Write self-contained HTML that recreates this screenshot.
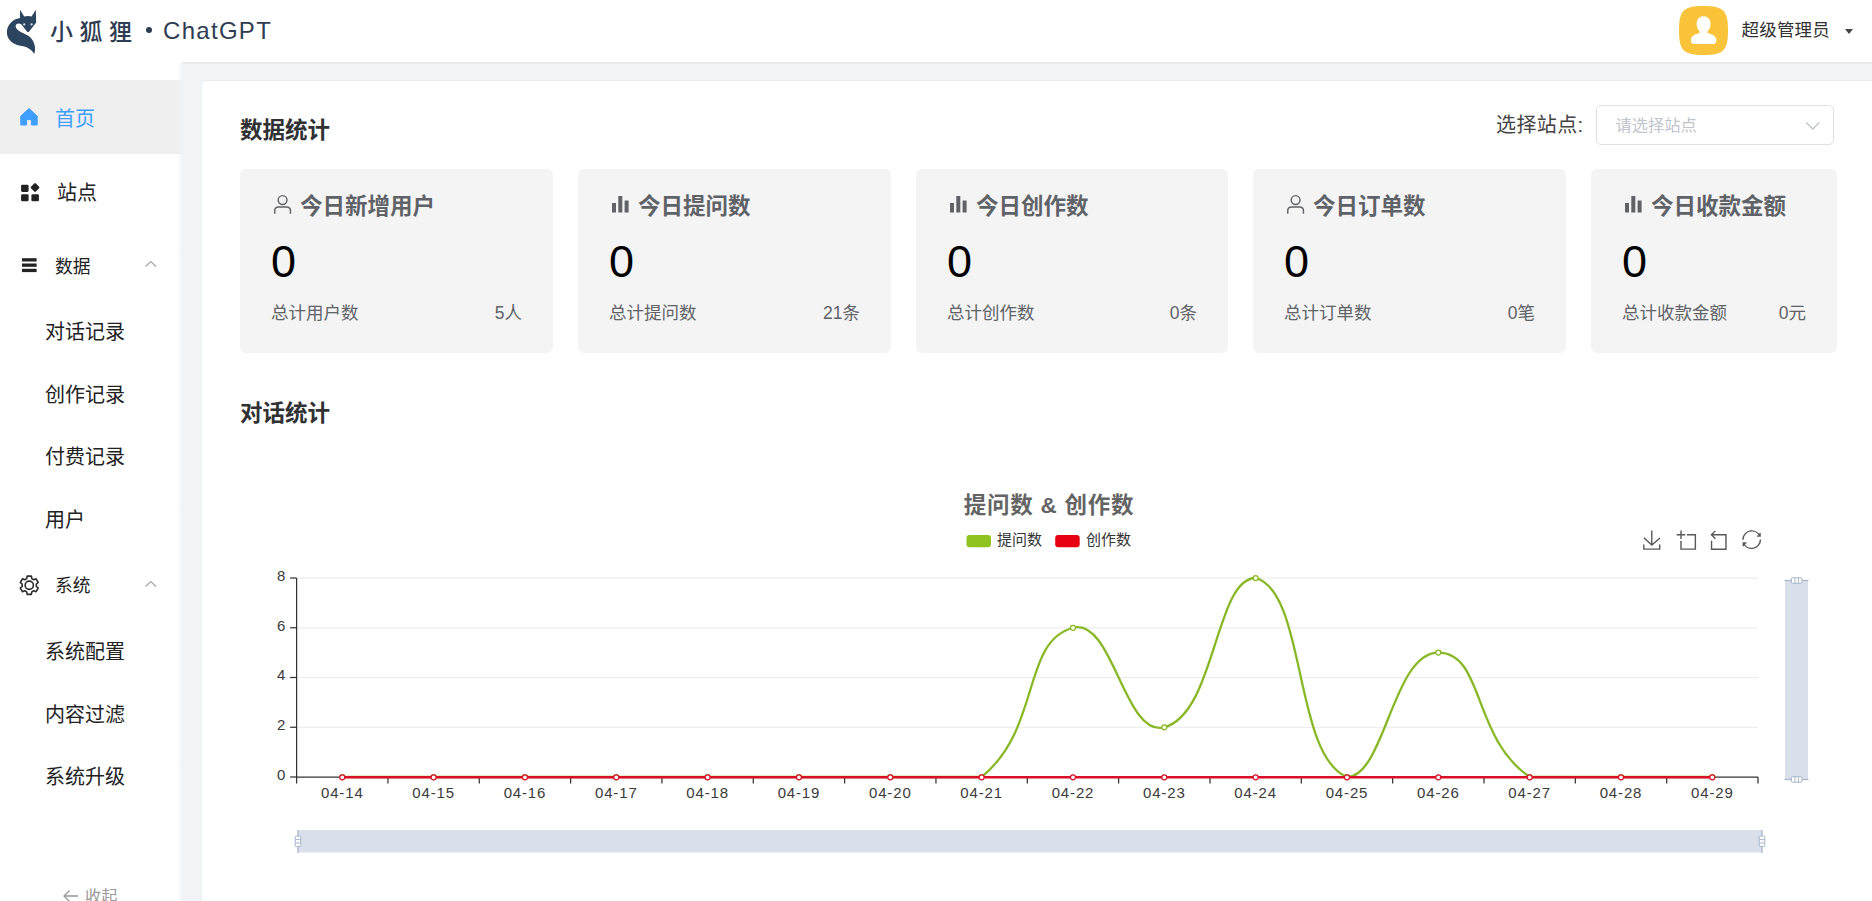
<!DOCTYPE html>
<html lang="zh-CN">
<head>
<meta charset="utf-8">
<title>小狐狸 ChatGPT</title>
<style>
*{box-sizing:border-box;margin:0;padding:0}
html,body{width:1872px;height:901px;overflow:hidden;background:#f0f4f7;font-family:"Liberation Sans","Noto Sans CJK SC",sans-serif;color:#303133}
.abs{position:absolute}
#header{position:absolute;left:0;top:0;width:1872px;height:62px;background:#fff;z-index:3}
#header:after{content:"";position:absolute;left:183px;right:0;top:62px;height:1.6px;background:#e9e9e9}
#sidebar{position:absolute;left:0;top:62px;width:183px;height:839px;background:#fff;z-index:2}
#sidebar:after{content:"";position:absolute;right:0;top:0;width:7px;height:100%;background:linear-gradient(to right,rgba(240,244,247,0),rgba(240,244,247,1))}
#panel{position:absolute;left:202px;top:81px;width:1690px;height:840px;background:#fff;border-radius:4px 0 0 0;box-shadow:0 -1px 1px rgba(0,0,0,.04);z-index:1}
.logo-cn{position:absolute;left:50px;top:16px;font-size:23px;line-height:32px;letter-spacing:6.5px;color:#2f3d52;white-space:nowrap;font-weight:500}
.logo-en{position:absolute;left:163px;top:15px;font-size:24px;line-height:32px;letter-spacing:1.3px;color:#2f3d52;white-space:nowrap}
.logo-dot{position:absolute;left:145.5px;top:26.5px;width:6px;height:6px;border-radius:50%;background:#2f3d52}
.avatar{position:absolute;left:1679.4px;top:5.5px;width:49px;height:49px;}
.uname{position:absolute;left:1741.5px;top:17px;letter-spacing:.2px;font-size:17.5px;line-height:26px;color:#333;white-space:nowrap}
.caret{position:absolute;left:1844.8px;top:29px;width:0;height:0;border-left:4px solid transparent;border-right:4px solid transparent;border-top:5px solid #444}
.mi{position:absolute;left:0;width:183px;white-space:nowrap;font-size:20px;color:#222}
.mi .t{position:absolute;top:0;line-height:30px}
.active{background:#efefef}
.h2{position:absolute;font-size:22.5px;font-weight:700;color:#303133;line-height:32px;white-space:nowrap}
.card{position:absolute;top:169px;height:184px;background:#f4f4f5;border-radius:6px}
.card .ct{position:absolute;left:60px;top:21.7px;font-size:22.5px;line-height:32px;font-weight:700;color:#5f6266;white-space:nowrap}
.card .num{position:absolute;left:31px;top:66px;font-size:45px;line-height:54px;color:#000}
.card .l{position:absolute;left:31px;top:131px;font-size:17.5px;line-height:26px;color:#606266;white-space:nowrap}
.card .r{position:absolute;right:31px;top:131px;font-size:17.5px;line-height:26px;color:#606266;white-space:nowrap}
.card svg{position:absolute;left:32.8px;top:25.3px}
.sel-label{position:absolute;left:1496px;top:110px;font-size:20px;letter-spacing:.4px;line-height:30px;color:#444;white-space:nowrap}
.sel{position:absolute;left:1596px;top:105px;width:238px;height:40px;border:1.25px solid #dfe1e6;border-radius:5px;background:#fff}
.sel span{position:absolute;left:18.5px;top:6.5px;font-size:16.25px;line-height:24px;color:#c0c4cc;white-space:nowrap}
.chart{position:absolute;left:240px;top:461px}
.chart text{font-family:"Liberation Sans","Noto Sans CJK SC",sans-serif}
.ax{font-size:15px;fill:#3a3a3a;letter-spacing:.85px}
.ttl{font-size:22.5px;font-weight:700;fill:#646464;letter-spacing:.75px}
.lg{font-size:15px;fill:#333}
</style>
</head>
<body>
<div id="header">
  <svg class="abs" style="left:0;top:0" width="60" height="62" viewBox="0 0 60 62">
    <path d="M20,9.8 L24.2,16.6 Q28,15.6 31.6,16.6 L35.8,9.8 L36.2,22.5 L28.8,32 L27.4,32 L21,24 C18,22.5 15.6,24 15.6,26.5 C16.5,31.5 25,33 30,37 C35,42 36.2,49 34.2,54 C32,50 28,47 22,46 C14,45 8,41 7,34 C6,26 12,19 20,18 Z" fill="#2b4560"/>
    <circle cx="24.2" cy="24.4" r="1.1" fill="#dfe6ee"/><circle cx="31.6" cy="24.4" r="1.1" fill="#dfe6ee"/>
  </svg>
  <div class="logo-cn">小狐狸</div>
  <div class="logo-dot"></div>
  <div class="logo-en">ChatGPT</div>
  <div class="avatar">
    <svg width="49" height="49" viewBox="0 0 49 49"><path d="M0,24.5 C0,4.500 4.500,0 24.500,0 S49,4.500 49,24.500 S44.500,49 24.500,49 S0,44.500 0,24.500 Z" fill="#f9c33a"/><path d="M24.600,10.200 c4.200,0 7,3.200 7,7.600 c0,3.400 -1.300,6 -3,7.600 v1.600 c4.500,1 8,2.600 8.700,6.400 c.4,2.500 -1,4.500 -3.200,4.500 h-19 c-2.200,0 -3.600,-2 -3.200,-4.500 c.7,-3.800 4.200,-5.400 8.700,-6.400 v-1.600 c-1.700,-1.600 -3,-4.200 -3,-7.600 c0,-4.400 2.800,-7.600 7,-7.600 z" fill="#fff"/></svg>
  </div>
  <div class="uname">超级管理员</div>
  <div class="caret"></div>
</div>

<div id="sidebar">
  <div class="mi active" style="top:18px;height:74px">
    <svg class="abs" style="left:19px;top:27px" width="20" height="20" viewBox="0 0 20 20"><path d="M10,1.6 L18.2,9 V18 H12.4 V12.6 H7.6 V18 H1.8 V9 Z" fill="#409eff" stroke="#409eff" stroke-width="1" stroke-linejoin="round"/></svg>
    <span class="t" style="left:55px;top:23.5px;color:#409eff">首页</span>
  </div>
  <div class="mi" style="top:92px;height:74px">
    <svg class="abs" style="left:20px;top:28px" width="21.5" height="21.5" viewBox="0 0 20 20"><rect x="1" y="2.6" width="7" height="6.6" rx="1.2" fill="#222"/><rect x="1" y="11.4" width="7" height="6.6" rx="1.2" fill="#222"/><rect x="10.6" y="11.4" width="7" height="6.6" rx="1.2" fill="#222"/><rect x="10.800" y="1.9" width="6.400" height="6.400" rx="1.1" fill="#222" transform="rotate(45 14 5.1)"/></svg>
    <span class="t" style="left:57px;top:24px">站点</span>
  </div>
  <div class="mi" style="top:166px;height:74px">
    <svg class="abs" style="left:21.500px;top:28.500px" width="16" height="16" viewBox="0 0 16 16"><rect x="0" y="1.200" width="14.600" height="3.300" fill="#222"/><rect x="0" y="6.500" width="14.600" height="3.300" fill="#222"/><rect x="0" y="11.800" width="14.600" height="3.300" fill="#222"/></svg>
    <span class="t" style="left:55px;top:24px;font-size:17.75px">数据</span>
    <svg class="abs" style="left:143.5px;top:31px" width="14" height="10" viewBox="0 0 14 10"><path d="M1.500,7.500 L6.800,2.600 L12.100,7.500" fill="none" stroke="#aaa" stroke-width="1.4"/></svg>
  </div>
  <div class="mi" style="top:255px;height:32px"><span class="t" style="left:45px">对话记录</span></div>
  <div class="mi" style="top:318px;height:32px"><span class="t" style="left:45px">创作记录</span></div>
  <div class="mi" style="top:380px;height:32px"><span class="t" style="left:45px">付费记录</span></div>
  <div class="mi" style="top:443px;height:32px"><span class="t" style="left:45px">用户</span></div>
  <div class="mi" style="top:486px;height:74px">
    <svg class="abs" style="left:17.700px;top:26.100px" width="22.500" height="22.500" viewBox="0 0 24 24"><path d="M14.72,4.90 L14.25,2.26 L9.75,2.26 L9.28,4.90 L7.22,6.09 L4.69,5.18 L2.44,9.08 L4.49,10.81 L4.49,13.19 L2.44,14.92 L4.69,18.82 L7.22,17.91 L9.28,19.10 L9.75,21.74 L14.25,21.74 L14.72,19.10 L16.78,17.91 L19.31,18.82 L21.56,14.92 L19.51,13.19 L19.51,10.81 L21.56,9.08 L19.31,5.18 L16.78,6.09 Z" fill="none" stroke="#2d2d2d" stroke-width="1.700" stroke-linejoin="round"/><circle cx="12" cy="12" r="4.400" fill="none" stroke="#2d2d2d" stroke-width="1.700"/></svg>
    <span class="t" style="left:55px;top:22.5px;font-size:17.75px">系统</span>
    <svg class="abs" style="left:143.5px;top:31px" width="14" height="10" viewBox="0 0 14 10"><path d="M1.500,7.500 L6.800,2.600 L12.100,7.500" fill="none" stroke="#aaa" stroke-width="1.4"/></svg>
  </div>
  <div class="mi" style="top:575px;height:32px"><span class="t" style="left:45px">系统配置</span></div>
  <div class="mi" style="top:638px;height:32px"><span class="t" style="left:45px">内容过滤</span></div>
  <div class="mi" style="top:700px;height:32px"><span class="t" style="left:45px">系统升级</span></div>
  <div class="mi" style="top:820px;height:30px;color:#999;font-size:16.25px">
    <svg class="abs" style="left:62px;top:7px" width="18" height="14" viewBox="0 0 18 14"><path d="M16,7 H2 M7.500,1.500 L2,7 L7.500,12.500" fill="none" stroke="#999" stroke-width="1.3"/></svg>
    <span class="t" style="left:85px;top:0;line-height:28px">收起</span>
  </div>
</div>

<div id="panel"></div>
<div style="position:absolute;left:0;top:0;z-index:4">
  <div class="h2" style="left:240px;top:115px">数据统计</div>
  <div class="sel-label">选择站点:</div>
  <div class="sel"><span>请选择站点</span>
    <svg class="abs" style="left:207.500px;top:13.500px" width="16" height="12" viewBox="0 0 16 12"><path d="M1.200,2.500 L7.800,9 L14.400,2.500" fill="none" stroke="#c0c4cc" stroke-width="1.400"/></svg>
  </div>

  <div class="card" style="left:240px;width:313px">
    <svg width="19.200" height="21.100" viewBox="0 0 20 22"><circle cx="10" cy="6.300" r="4.600" fill="none" stroke="#606266" stroke-width="1.500"/><path d="M1.800,20.500 v-3 c0,-2.300 1.700,-4 4,-4 h8.400 c2.300,0 4,1.700 4,4 v3" fill="none" stroke="#606266" stroke-width="1.500"/></svg>
    <div class="ct">今日新增用户</div><div class="num">0</div><div class="l">总计用户数</div><div class="r">5人</div>
  </div>
  <div class="card" style="left:578px;width:313px">
    <svg width="20" height="22" viewBox="0 0 20 22"><rect x="1" y="9" width="4" height="9.500" fill="#606266"/><rect x="7.300" y="2" width="4" height="16.500" fill="#606266"/><rect x="13.600" y="6.500" width="4" height="12" fill="#606266"/></svg>
    <div class="ct">今日提问数</div><div class="num">0</div><div class="l">总计提问数</div><div class="r">21条</div>
  </div>
  <div class="card" style="left:916px;width:312px">
    <svg width="20" height="22" viewBox="0 0 20 22"><rect x="1" y="9" width="4" height="9.500" fill="#606266"/><rect x="7.300" y="2" width="4" height="16.500" fill="#606266"/><rect x="13.600" y="6.500" width="4" height="12" fill="#606266"/></svg>
    <div class="ct">今日创作数</div><div class="num">0</div><div class="l">总计创作数</div><div class="r">0条</div>
  </div>
  <div class="card" style="left:1253px;width:313px">
    <svg width="19.200" height="21.100" viewBox="0 0 20 22"><circle cx="10" cy="6.300" r="4.600" fill="none" stroke="#606266" stroke-width="1.500"/><path d="M1.800,20.500 v-3 c0,-2.300 1.700,-4 4,-4 h8.400 c2.300,0 4,1.700 4,4 v3" fill="none" stroke="#606266" stroke-width="1.500"/></svg>
    <div class="ct">今日订单数</div><div class="num">0</div><div class="l">总计订单数</div><div class="r">0笔</div>
  </div>
  <div class="card" style="left:1591px;width:246px">
    <svg width="20" height="22" viewBox="0 0 20 22"><rect x="1" y="9" width="4" height="9.500" fill="#606266"/><rect x="7.300" y="2" width="4" height="16.500" fill="#606266"/><rect x="13.600" y="6.500" width="4" height="12" fill="#606266"/></svg>
    <div class="ct">今日收款金额</div><div class="num">0</div><div class="l">总计收款金额</div><div class="r">0元</div>
  </div>

  <div class="h2" style="left:240px;top:398px">对话统计</div>
  <svg class="chart" width="1630" height="440" viewBox="240 461 1630 440">
<line x1="296.6" x2="1758.0" y1="727.25" y2="727.25" stroke="#eeeeee" stroke-width="1.25"/>
<line x1="296.6" x2="1758.0" y1="677.50" y2="677.50" stroke="#eeeeee" stroke-width="1.25"/>
<line x1="296.6" x2="1758.0" y1="627.75" y2="627.75" stroke="#eeeeee" stroke-width="1.25"/>
<line x1="296.6" x2="1758.0" y1="578.00" y2="578.00" stroke="#eeeeee" stroke-width="1.25"/>
<line x1="296.6" x2="296.6" y1="578.0" y2="777.0" stroke="#333" stroke-width="1.25"/>
<line x1="296.6" x2="1758.0" y1="777.0" y2="777.0" stroke="#333" stroke-width="1.25"/>
<line x1="290.1" x2="296.6" y1="777.00" y2="777.00" stroke="#333" stroke-width="1.25"/>
<text x="286.1" y="779.80" text-anchor="end" class="ax">0</text>
<line x1="290.1" x2="296.6" y1="727.25" y2="727.25" stroke="#333" stroke-width="1.25"/>
<text x="286.1" y="730.05" text-anchor="end" class="ax">2</text>
<line x1="290.1" x2="296.6" y1="677.50" y2="677.50" stroke="#333" stroke-width="1.25"/>
<text x="286.1" y="680.30" text-anchor="end" class="ax">4</text>
<line x1="290.1" x2="296.6" y1="627.75" y2="627.75" stroke="#333" stroke-width="1.25"/>
<text x="286.1" y="630.55" text-anchor="end" class="ax">6</text>
<line x1="290.1" x2="296.6" y1="578.00" y2="578.00" stroke="#333" stroke-width="1.25"/>
<text x="286.1" y="580.80" text-anchor="end" class="ax">8</text>
<line x1="296.60" x2="296.60" y1="777.0" y2="783.5" stroke="#333" stroke-width="1.25"/>
<line x1="387.94" x2="387.94" y1="777.0" y2="783.5" stroke="#333" stroke-width="1.25"/>
<line x1="479.28" x2="479.28" y1="777.0" y2="783.5" stroke="#333" stroke-width="1.25"/>
<line x1="570.61" x2="570.61" y1="777.0" y2="783.5" stroke="#333" stroke-width="1.25"/>
<line x1="661.95" x2="661.95" y1="777.0" y2="783.5" stroke="#333" stroke-width="1.25"/>
<line x1="753.29" x2="753.29" y1="777.0" y2="783.5" stroke="#333" stroke-width="1.25"/>
<line x1="844.63" x2="844.63" y1="777.0" y2="783.5" stroke="#333" stroke-width="1.25"/>
<line x1="935.96" x2="935.96" y1="777.0" y2="783.5" stroke="#333" stroke-width="1.25"/>
<line x1="1027.30" x2="1027.30" y1="777.0" y2="783.5" stroke="#333" stroke-width="1.25"/>
<line x1="1118.64" x2="1118.64" y1="777.0" y2="783.5" stroke="#333" stroke-width="1.25"/>
<line x1="1209.97" x2="1209.97" y1="777.0" y2="783.5" stroke="#333" stroke-width="1.25"/>
<line x1="1301.31" x2="1301.31" y1="777.0" y2="783.5" stroke="#333" stroke-width="1.25"/>
<line x1="1392.65" x2="1392.65" y1="777.0" y2="783.5" stroke="#333" stroke-width="1.25"/>
<line x1="1483.99" x2="1483.99" y1="777.0" y2="783.5" stroke="#333" stroke-width="1.25"/>
<line x1="1575.33" x2="1575.33" y1="777.0" y2="783.5" stroke="#333" stroke-width="1.25"/>
<line x1="1666.66" x2="1666.66" y1="777.0" y2="783.5" stroke="#333" stroke-width="1.25"/>
<line x1="1758.00" x2="1758.00" y1="777.0" y2="783.5" stroke="#333" stroke-width="1.25"/>
<text x="342.27" y="798.2" text-anchor="middle" class="ax">04-14</text>
<text x="433.61" y="798.2" text-anchor="middle" class="ax">04-15</text>
<text x="524.94" y="798.2" text-anchor="middle" class="ax">04-16</text>
<text x="616.28" y="798.2" text-anchor="middle" class="ax">04-17</text>
<text x="707.62" y="798.2" text-anchor="middle" class="ax">04-18</text>
<text x="798.96" y="798.2" text-anchor="middle" class="ax">04-19</text>
<text x="890.29" y="798.2" text-anchor="middle" class="ax">04-20</text>
<text x="981.63" y="798.2" text-anchor="middle" class="ax">04-21</text>
<text x="1072.97" y="798.2" text-anchor="middle" class="ax">04-22</text>
<text x="1164.31" y="798.2" text-anchor="middle" class="ax">04-23</text>
<text x="1255.64" y="798.2" text-anchor="middle" class="ax">04-24</text>
<text x="1346.98" y="798.2" text-anchor="middle" class="ax">04-25</text>
<text x="1438.32" y="798.2" text-anchor="middle" class="ax">04-26</text>
<text x="1529.66" y="798.2" text-anchor="middle" class="ax">04-27</text>
<text x="1620.99" y="798.2" text-anchor="middle" class="ax">04-28</text>
<text x="1712.33" y="798.2" text-anchor="middle" class="ax">04-29</text>
<path d="M342.27,777.00C342.27,777.00 387.94,777.00 433.61,777.00C479.28,777.00 479.28,777.00 524.94,777.00C570.61,777.00 570.61,777.00 616.28,777.00C661.95,777.00 661.95,777.00 707.62,777.00C753.29,777.00 753.29,777.00 798.96,777.00C844.62,777.00 844.62,777.00 890.29,777.00C935.96,777.00 950.31,777.00 981.63,777.00C1041.64,727.97 1021.42,641.79 1072.97,627.75C1112.76,616.91 1124.52,738.09 1164.31,727.25C1215.85,713.21 1215.07,578.00 1255.64,578.00C1306.41,591.83 1293.40,755.11 1346.98,777.00C1384.74,777.00 1392.65,652.62 1438.32,652.62C1483.99,652.62 1472.28,737.94 1529.66,777.00C1563.62,777.00 1575.33,777.00 1620.99,777.00C1666.66,777.00 1712.33,777.00 1712.33,777.00" fill="none" stroke="#88b826" stroke-width="2.3" stroke-linejoin="round"/>
<circle cx="342.27" cy="777.00" r="2.5" fill="#fbffe9" stroke="#88b826" stroke-width="1.25"/>
<circle cx="433.61" cy="777.00" r="2.5" fill="#fbffe9" stroke="#88b826" stroke-width="1.25"/>
<circle cx="524.94" cy="777.00" r="2.5" fill="#fbffe9" stroke="#88b826" stroke-width="1.25"/>
<circle cx="616.28" cy="777.00" r="2.5" fill="#fbffe9" stroke="#88b826" stroke-width="1.25"/>
<circle cx="707.62" cy="777.00" r="2.5" fill="#fbffe9" stroke="#88b826" stroke-width="1.25"/>
<circle cx="798.96" cy="777.00" r="2.5" fill="#fbffe9" stroke="#88b826" stroke-width="1.25"/>
<circle cx="890.29" cy="777.00" r="2.5" fill="#fbffe9" stroke="#88b826" stroke-width="1.25"/>
<circle cx="981.63" cy="777.00" r="2.5" fill="#fbffe9" stroke="#88b826" stroke-width="1.25"/>
<circle cx="1072.97" cy="627.75" r="2.5" fill="#fbffe9" stroke="#88b826" stroke-width="1.25"/>
<circle cx="1164.31" cy="727.25" r="2.5" fill="#fbffe9" stroke="#88b826" stroke-width="1.25"/>
<circle cx="1255.64" cy="578.00" r="2.5" fill="#fbffe9" stroke="#88b826" stroke-width="1.25"/>
<circle cx="1346.98" cy="777.00" r="2.5" fill="#fbffe9" stroke="#88b826" stroke-width="1.25"/>
<circle cx="1438.32" cy="652.62" r="2.5" fill="#fbffe9" stroke="#88b826" stroke-width="1.25"/>
<circle cx="1529.66" cy="777.00" r="2.5" fill="#fbffe9" stroke="#88b826" stroke-width="1.25"/>
<circle cx="1620.99" cy="777.00" r="2.5" fill="#fbffe9" stroke="#88b826" stroke-width="1.25"/>
<circle cx="1712.33" cy="777.00" r="2.5" fill="#fbffe9" stroke="#88b826" stroke-width="1.25"/>
<path d="M342.27,777.2L1712.33,777.2" fill="none" stroke="#da1029" stroke-width="2.6"/>
<circle cx="342.27" cy="777.3" r="2.5" fill="#fff" stroke="#da1029" stroke-width="1.25"/>
<circle cx="433.61" cy="777.3" r="2.5" fill="#fff" stroke="#da1029" stroke-width="1.25"/>
<circle cx="524.94" cy="777.3" r="2.5" fill="#fff" stroke="#da1029" stroke-width="1.25"/>
<circle cx="616.28" cy="777.3" r="2.5" fill="#fff" stroke="#da1029" stroke-width="1.25"/>
<circle cx="707.62" cy="777.3" r="2.5" fill="#fff" stroke="#da1029" stroke-width="1.25"/>
<circle cx="798.96" cy="777.3" r="2.5" fill="#fff" stroke="#da1029" stroke-width="1.25"/>
<circle cx="890.29" cy="777.3" r="2.5" fill="#fff" stroke="#da1029" stroke-width="1.25"/>
<circle cx="981.63" cy="777.3" r="2.5" fill="#fff" stroke="#da1029" stroke-width="1.25"/>
<circle cx="1072.97" cy="777.3" r="2.5" fill="#fff" stroke="#da1029" stroke-width="1.25"/>
<circle cx="1164.31" cy="777.3" r="2.5" fill="#fff" stroke="#da1029" stroke-width="1.25"/>
<circle cx="1255.64" cy="777.3" r="2.5" fill="#fff" stroke="#da1029" stroke-width="1.25"/>
<circle cx="1346.98" cy="777.3" r="2.5" fill="#fff" stroke="#da1029" stroke-width="1.25"/>
<circle cx="1438.32" cy="777.3" r="2.5" fill="#fff" stroke="#da1029" stroke-width="1.25"/>
<circle cx="1529.66" cy="777.3" r="2.5" fill="#fff" stroke="#da1029" stroke-width="1.25"/>
<circle cx="1620.99" cy="777.3" r="2.5" fill="#fff" stroke="#da1029" stroke-width="1.25"/>
<circle cx="1712.33" cy="777.3" r="2.5" fill="#fff" stroke="#da1029" stroke-width="1.25"/>
<text x="1049" y="513" text-anchor="middle" class="ttl">提问数 &amp; 创作数</text>
<rect x="966.5" y="535" width="24.5" height="12.2" rx="3" fill="#8fc31f"/>
<text x="997" y="545" class="lg">提问数</text>
<rect x="1055.2" y="535" width="24.5" height="12.2" rx="3" fill="#e60012"/>
<text x="1086" y="545" class="lg">创作数</text>
<path transform="translate(1642.33,530.42) scale(0.3233)" d="M4.7,22.9L29.3,45.5L54.7,23.4M4.6,43.6L4.6,58L53.8,58L53.8,43.6M29.2,45.1L29.2,0" fill="none" stroke="#585858" stroke-width="4.33"/>
<path transform="translate(1676.62,530.42) scale(0.3233)" d="M0,13.5h26.9 M13.5,26.9V0 M32.1,13.5H58V58H13.5 V32.1" fill="none" stroke="#585858" stroke-width="4.33"/>
<path transform="translate(1708.22,530.42) scale(0.3233)" d="M22,1.4L9.9,13.5l12.3,12.3 M10.3,13.5H54.9v44.6 H10.3v-26" fill="none" stroke="#585858" stroke-width="4.33"/>
<path transform="translate(1742.33,530.23) scale(0.3125)" d="M47,18.9h9.8V8.7 M56.3,20.1 C52.1,9,40.5,0.6,26.8,2.1C12.6,3.7,1.6,16.2,2.1,30.6 M13,41.1H3.1v10.2 M3.7,39.9c4.2,11.1,15.8,19.5,29.5,18 c14.2-1.6,25.2-14.1,24.7-28.5" fill="none" stroke="#585858" stroke-width="4.48"/>
<rect x="298" y="830" width="1464" height="22.5" fill="#d9dfeb"/>
<line x1="298" x2="298" y1="830" y2="853" stroke="#a7b7cc" stroke-width="1.25"/>
<line x1="1762" x2="1762" y1="830" y2="853" stroke="#a7b7cc" stroke-width="1.25"/>
<rect x="295.25" y="836.05" width="5.5" height="10.5" rx=".8" fill="#fff" stroke="#a7b7cc" stroke-width="1"/><line x1="295.25" x2="300.75" y1="839.5999999999999" y2="839.5999999999999" stroke="#a7b7cc" stroke-width="1"/><line x1="295.25" x2="300.75" y1="843.0" y2="843.0" stroke="#a7b7cc" stroke-width="1"/>
<rect x="1759.25" y="836.05" width="5.5" height="10.5" rx=".8" fill="#fff" stroke="#a7b7cc" stroke-width="1"/><line x1="1759.25" x2="1764.75" y1="839.5999999999999" y2="839.5999999999999" stroke="#a7b7cc" stroke-width="1"/><line x1="1759.25" x2="1764.75" y1="843.0" y2="843.0" stroke="#a7b7cc" stroke-width="1"/>
<rect x="1785" y="580" width="23" height="200" fill="#d9dfeb"/>
<line x1="1784.5" x2="1808.5" y1="580.5" y2="580.5" stroke="#a7b7cc" stroke-width="1.25"/>
<line x1="1784.5" x2="1808.5" y1="779.5" y2="779.5" stroke="#a7b7cc" stroke-width="1.25"/>
<rect x="1791.45" y="577.75" width="10.5" height="5.5" rx=".8" fill="#fff" stroke="#a7b7cc" stroke-width="1"/><line x1="1795.0" x2="1795.0" y1="577.75" y2="583.25" stroke="#a7b7cc" stroke-width="1"/><line x1="1798.4" x2="1798.4" y1="577.75" y2="583.25" stroke="#a7b7cc" stroke-width="1"/>
<rect x="1791.45" y="776.75" width="10.5" height="5.5" rx=".8" fill="#fff" stroke="#a7b7cc" stroke-width="1"/><line x1="1795.0" x2="1795.0" y1="776.75" y2="782.25" stroke="#a7b7cc" stroke-width="1"/><line x1="1798.4" x2="1798.4" y1="776.75" y2="782.25" stroke="#a7b7cc" stroke-width="1"/>
</svg>
</div>
</body>
</html>
